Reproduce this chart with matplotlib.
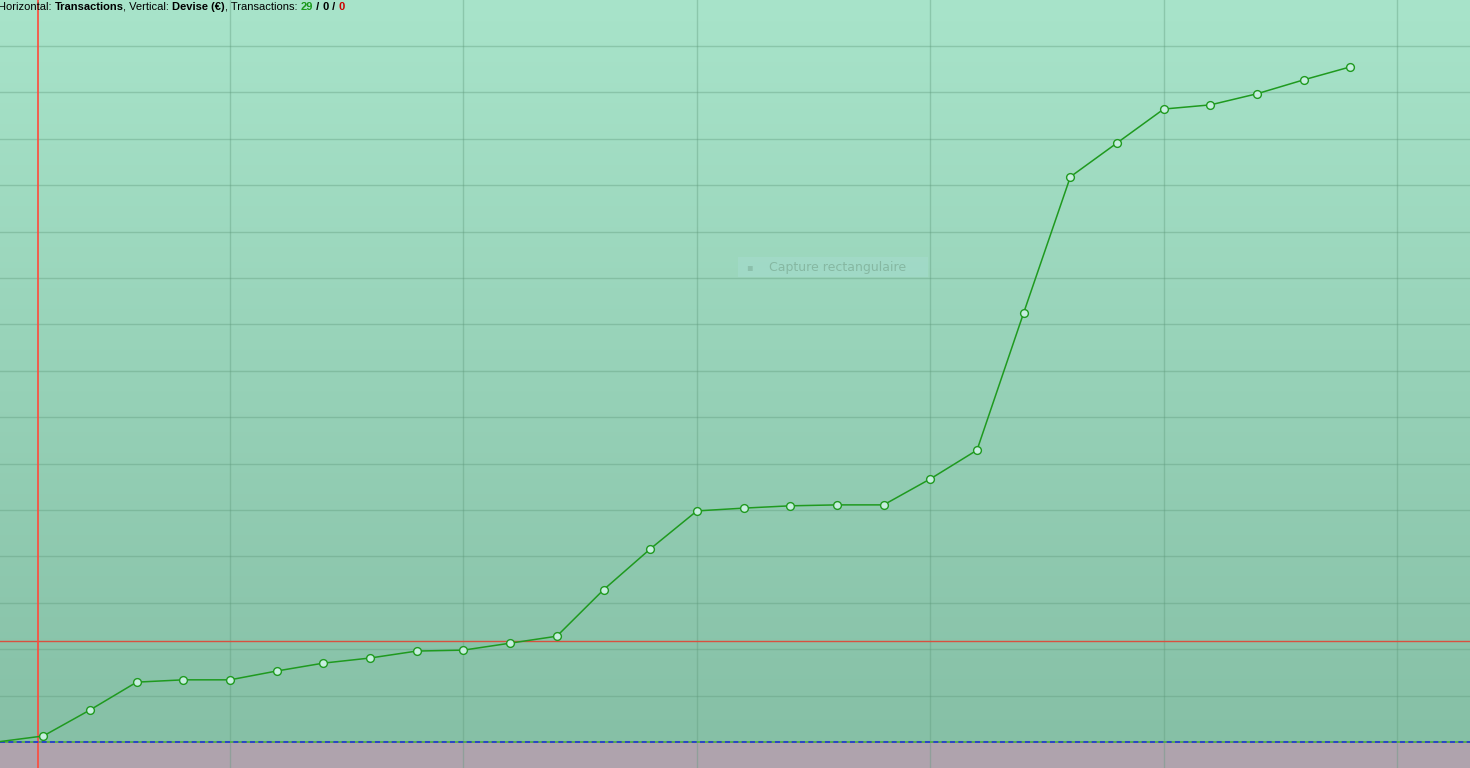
import numpy as np
import matplotlib.pyplot as plt

# solde cumulé par transaction (unités de grille)
transactions = list(range(0, 30))
solde = [0.0, 0.13, 0.69, 1.29, 1.34, 1.34, 1.53, 1.70, 1.81, 1.96, 1.98,
         2.13, 2.28, 3.28, 4.16, 4.98, 5.04, 5.09, 5.11, 5.11, 5.67,
         6.29, 9.25, 12.18, 12.91, 13.64, 13.73, 13.97, 14.27, 14.55]
seuil = 2.18        # ligne rouge horizontale
curseur = 0.887     # ligne rouge verticale

XMIN, XMAX = 0.073, 31.56
YMIN, YMAX = -0.56, 15.99

fig = plt.figure(figsize=(14.7, 7.68), dpi=100)
ax = fig.add_axes([0, 0, 1, 1])
ax.set_xlim(XMIN, XMAX)
ax.set_ylim(YMIN, YMAX)
ax.axis('off')

# fond en dégradé
top = np.array([168, 228, 202]) / 255
bot = np.array([134, 192, 166]) / 255
t = np.linspace(0, 1, 256)[:, None]
grad = top * (1 - t) + bot * t
ax.imshow(grad[:, None, :], extent=[XMIN, XMAX, 0, YMAX], aspect='auto',
          zorder=0, interpolation='bilinear')
ax.axhspan(YMIN, 0, color='#afa3ad', zorder=0.5)

# grille
for gx in range(5, 32, 5):
    ax.axvline(gx, color='#5f9a7c', lw=1, alpha=0.38, zorder=1)
for gy in range(1, 16):
    ax.axhline(gy, color='#5f9a7c', lw=1, alpha=0.38, zorder=1)

# ligne de base pointillée
ax.axhline(0, color='#4caf3a', lw=1.2, zorder=2)
ax.axhline(0, color='#2233dd', lw=1.2, ls=(0, (3, 2)), zorder=2.1)

# repères rouges
ax.axhline(seuil, color='#d8503f', lw=1, zorder=2)
ax.axvline(curseur, color='#ff4a3a', lw=1.2, zorder=2)

# courbe
ax.plot(transactions, solde, color='#1f9a1f', lw=1.1, marker='o',
        markersize=5.6, markerfacecolor='#c6eedf', markeredgecolor='#1f9a1f',
        markeredgewidth=1, markevery=list(range(1, len(transactions))), zorder=3)

# artefact "Capture rectangulaire"
ax.add_patch(plt.Rectangle((15.88, 10.02), 4.08, 0.43, transform=ax.transData,
                           facecolor='#a6dcd0', alpha=0.5, lw=0, zorder=2.5))
ax.text(16.12, 10.235, '▪', color='#8cc0ac', fontsize=7, ha='center', va='center', zorder=2.6)
ax.text(16.55, 10.235, 'Capture rectangulaire', color='#86b8a2', fontsize=9,
        ha='left', va='center', zorder=2.6)

# titre
parts = [('Horizontal: ', 'normal', 'black'),
         ('Transactions', 'bold', 'black'),
         (', Vertical: ', 'normal', 'black'),
         ('Devise (€)', 'bold', 'black'),
         (', Transactions: ', 'normal', 'black'),
         ('29', 'bold', '#1a9a1a'),
         (' / ', 'bold', 'black'),
         ('0', 'bold', 'black'),
         (' / ', 'bold', 'black'),
         ('0', 'bold', '#cc0000')]
prev = fig.text(-0.0015, 0.998, parts[0][0], fontsize=8.0, fontweight=parts[0][1],
                color=parts[0][2], ha='left', va='top', family='Liberation Sans')
for txt, w, c in parts[1:]:
    prev = ax.annotate(txt, xy=(1, 0), xycoords=prev, fontsize=8.0, fontweight=w,
                       color=c, ha='left', va='bottom', family='Liberation Sans')

fig.savefig('out.png', dpi=100)
